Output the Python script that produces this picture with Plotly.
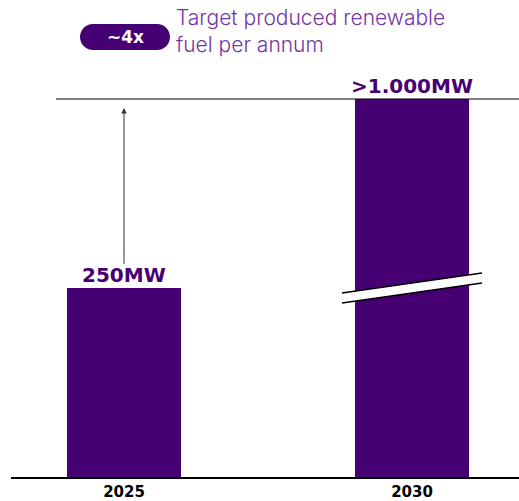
import plotly.graph_objects as go

# ---- data ----
years = ["2025", "2030"]
values = [250, 1000]            # MW
display_values = [250, 500]     # 2030 bar drawn with an axis break
value_labels = ["250MW", ">1.000MW"]
multiplier_label = "~4x"
legend_lines = ["Target produced renewable", "fuel per annum"]

PURPLE = "#460073"
LIGHT_PURPLE = "#7236A6"

OFF = 0  # body margin removed via post_script
W, H = 519 - OFF, 501 - OFF
ML, MR, MT, MB = 11 - OFF, 0, 8 - OFF, 24
PW, PH = W - ML - MR, H - MT - MB
PX_PER_UNIT_X = 288.0
PX_PER_UNIT_Y = 0.756
X0 = -(124 - 11) / PX_PER_UNIT_X
X1 = X0 + PW / PX_PER_UNIT_X
Y1 = PH / PX_PER_UNIT_Y


def px2paper(px, py):
    """reference-picture pixel -> paper coords"""
    fx, fy = px - OFF, py - OFF
    return (fx - ML) / PW, (MT + PH - fy) / PH


xs = list(range(len(years)))

fig = go.Figure()
fig.add_trace(go.Bar(
    x=xs, y=display_values, width=0.396,
    marker=dict(color=PURPLE, line=dict(width=0)),
    hoverinfo="skip",
))

shapes = []
# top reference line at the capped level
shapes.append(dict(type="line", xref="paper", yref="y",
                   x0=px2paper(56, 0)[0], x1=1, y0=display_values[1], y1=display_values[1],
                   line=dict(color="black", width=1.2)))

# axis-break on 2030 bar
bx = xs[1]
ya0, ya1 = 243.4, 269.8   # upper line
yb0, yb1 = 230.2, 256.6   # lower line
xl, xr = bx - 0.243, bx + 0.243
shapes.append(dict(type="path", xref="x", yref="y",
                   path=f"M {xl},{ya0} L {xr},{ya1} L {xr},{yb1} L {xl},{yb0} Z",
                   fillcolor="white", line=dict(width=0)))
shapes.append(dict(type="line", xref="x", yref="y", x0=xl, x1=xr, y0=ya0, y1=ya1,
                   line=dict(color="black", width=1.5)))
shapes.append(dict(type="line", xref="x", yref="y", x0=xl, x1=xr, y0=yb0, y1=yb1,
                   line=dict(color="black", width=1.5)))


def pill_path(x0, y0, x1, y1):
    r = (y1 - y0) / 2
    k = 0.5523 * r
    def P(px, py):
        a, b = px2paper(px, py)
        return f"{a:.5f},{b:.5f}"
    cy = (y0 + y1) / 2
    p = f"M {P(x0 + r, y0)} L {P(x1 - r, y0)} "
    p += f"C {P(x1 - r + k, y0)} {P(x1, cy - k)} {P(x1, cy)} "
    p += f"C {P(x1, cy + k)} {P(x1 - r + k, y1)} {P(x1 - r, y1)} "
    p += f"L {P(x0 + r, y1)} "
    p += f"C {P(x0 + r - k, y1)} {P(x0, cy + k)} {P(x0, cy)} "
    p += f"C {P(x0, cy - k)} {P(x0 + r - k, y0)} {P(x0 + r, y0)} Z"
    return p


shapes.append(dict(type="path", xref="paper", yref="paper",
                   path=pill_path(80, 24, 170, 50),
                   fillcolor=PURPLE, line=dict(width=0)))

annotations = []
# arrow from 2025 label up to the reference line
annotations.append(dict(x=xs[0], y=488, ax=xs[0], ay=280, xref="x", yref="y",
                        axref="x", ayref="y", showarrow=True, arrowhead=2,
                        arrowsize=1.1, arrowwidth=1, arrowcolor="#333333", text=""))
# value labels
for x, v, lab in zip(xs, display_values, value_labels):
    annotations.append(dict(x=x, y=v, xref="x", yref="y", text=f"<b>{lab}</b>",
                            showarrow=False, yanchor="bottom", yshift=-1,
                            font=dict(family="DejaVu Sans", size=20, color=PURPLE)))
# pill text
px_, py_ = px2paper(125, 37)
annotations.append(dict(x=px_, y=py_, xref="paper", yref="paper",
                        text=f"<b>{multiplier_label}</b>", showarrow=False,
                        xanchor="center", yanchor="middle",
                        font=dict(family="DejaVu Sans", size=17, color="white")))
# legend text
lx, ly = px2paper(175, 31)
annotations.append(dict(x=lx, y=ly, xref="paper", yref="paper",
                        text="<br>".join(legend_lines),
                        showarrow=False, xanchor="left", yanchor="middle",
                        align="left", borderpad=0,
                        font=dict(family="Inter", size=21, color=LIGHT_PURPLE,
                                  weight=300)))

fig.update_layout(
    width=W, height=H,
    margin=dict(l=ML, r=MR, t=MT, b=MB),
    paper_bgcolor="white", plot_bgcolor="white",
    showlegend=False,
    shapes=shapes, annotations=annotations,
    xaxis=dict(range=[X0, X1], tickvals=xs, ticktext=[f"<b>{y}</b>" for y in years],
               tickfont=dict(family="DejaVu Sans", size=15, color="black"),
               showline=True, linecolor="black", linewidth=2, showgrid=False,
               zeroline=False, ticks="", fixedrange=True),
    yaxis=dict(range=[0, Y1], visible=False, showgrid=False, zeroline=False,
               fixedrange=True),
    bargap=0,
)

fig.write_html("out.html", config={"displayModeBar": False},
               post_script="document.body.style.margin='0';document.body.style.padding='0';")
